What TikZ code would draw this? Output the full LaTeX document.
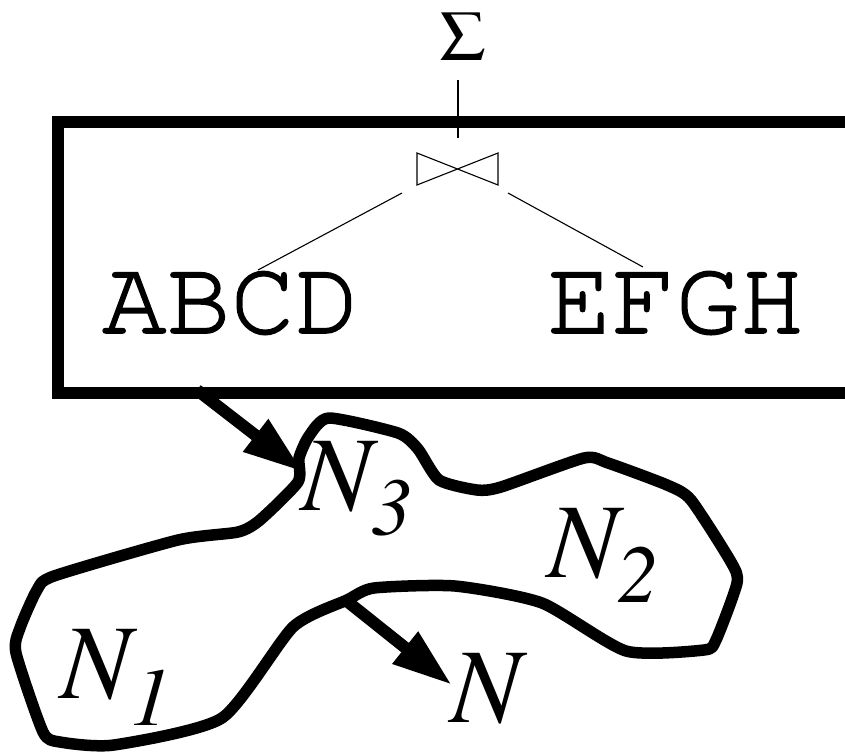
\documentclass[tikz,border=0pt]{standalone}
\usepackage{fontspec}
\IfFontExistsTF{texgyretermes-regular.otf}{%
  \setmainfont{texgyretermes}[Extension=.otf, UprightFont=*-regular, ItalicFont=*-italic]
}{%
  \setmainfont{Liberation Serif}
}
\IfFontExistsTF{texgyrecursor-regular.otf}{%
  \newfontfamily\monof{texgyrecursor}[Extension=.otf, UprightFont=*-regular, FakeBold=1.5]
}{%
  \newfontfamily\monof{Liberation Mono}
}
\usetikzlibrary{arrows.meta,calc}
\begin{document}
\begin{tikzpicture}[x=1pt,y=-1pt,
  framebox/.style={draw, line width=12pt, inner sep=0pt, minimum width=799pt, minimum height=271pt, anchor=north west},
  thinline/.style={line width=1.1pt},
  flow/.style={line width=12pt, -{Triangle[length=60pt,width=38pt]}},
  blob/.style={line width=11.5pt, line join=round},
  lbl/.style={inner sep=0pt, anchor=base west},
  rel/.style={lbl, font=\fontsize{107}{107}\selectfont\monof},
  big/.style={font=\fontsize{106}{106}\selectfont\itshape},
]
\useasboundingbox (0,0) rectangle (845,752);

% query frame
\node[framebox] (frame) at (52,116) {};

% sum on top of the join
\node[anchor=base, inner sep=0pt] (sigma) at (463,60) {\fontsize{72}{72}\selectfont Σ};
\coordinate (sigbot) at (458,80);
\coordinate (jointop) at (458,138);
\draw[thinline] (sigbot) -- (jointop);

% join symbol
\coordinate (join) at (457.5,169);
\draw[thinline, line join=miter]
  ($(join)+(-40.5,-16)$) -- ($(join)+(40.5,16)$) -- ($(join)+(40.5,-16)$)
  -- ($(join)+(-40.5,16)$) -- cycle;

% relations
\node[rel] (abcd) at (102,333) {ABCD};
\node[rel] (efgh) at (547,333) {EFGH};
\coordinate (jl) at (402,193);
\coordinate (jr) at (508,193);
\coordinate (abcdtop) at (258,270);
\coordinate (efghtop) at (643,267);
\draw[thinline] (jl) -- (abcdtop);
\draw[thinline] (jr) -- (efghtop);

% network outline
\draw[blob] plot[smooth cycle, tension=0.38] coordinates {
  (329,418) (398,433) (418,449) (439,480) (477,490) (501,487) (584,458)
  (608,463) (667,485) (691,500) (731,562) (737,583) (716,640) (704,650)
  (626,651) (542,603) (455,586) (374,588) (347,600) (293,627) (222,718)
  (114,745) (60,742) (43,732) (16,653) (20,628) (37,590) (54,576)
  (178,540) (238,532) (260,520) (298,482) (299,458) (309,436)};

% node labels
\node[lbl, big] (n3) at (301,510) {N\raisebox{-25pt}{\fontsize{82}{82}\selectfont 3}};
\node[lbl, big] (n2) at (547,577) {N\raisebox{-25pt}{\fontsize{82}{82}\selectfont 2}};
\node[lbl, big] (n1) at (60,698) {N\raisebox{-27pt}{\fontsize{82}{82}\selectfont 1}};
\node[lbl, big] (n) at (450,722) {N};

% flows
\coordinate (in0) at (197,390);
\coordinate (in1) at (303,472);
\coordinate (out0) at (348,602);
\coordinate (out1) at (452,685);
\draw[flow] (in0) -- (in1);
\draw[flow] (out0) -- (out1);
\end{tikzpicture}
\end{document}
